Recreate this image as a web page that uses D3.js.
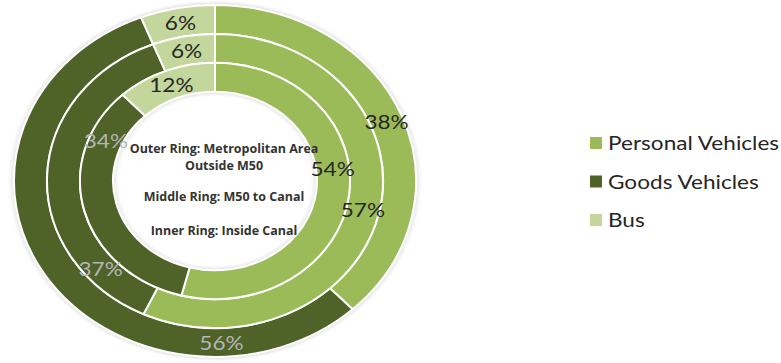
<!DOCTYPE html>
<html>
<head>
<meta charset="utf-8">
<script src="https://cdn.jsdelivr.net/npm/d3@7"></script>
<style>
  html, body { margin: 0; padding: 0; background: #ffffff; }
  svg { display: block; }
</style>
</head>
<body>
<svg id="chart" width="781" height="363"></svg>
<script>
// Vehicle type share by ring (outer → inner)
const categories = ["Personal Vehicles", "Goods Vehicles", "Bus"];
const rings = ["Outer Ring: Metropolitan Area Outside M50", "Middle Ring: M50 to Canal", "Inner Ring: Inside Canal"];
const outerValues = [38, 56, 6];
const middleValues = [57, 37, 6];
const innerValues = [54, 34, 12];
const ringValues = [outerValues, middleValues, innerValues];

// Where each percentage label sits (degrees clockwise from 12 o'clock); null = slice centre
const labelAngles = [
  [null, 178, null],
  [null, 229, null],
  [83, 293, null]
];

const colors = ["#9BBB59", "#4F6228", "#C3D69B"];
const labelColors = ["#262626", "#b5b5b5", "#262626"];

const svg = d3.select("#chart");
const cx = 215, cy = 181;
const rx = 201, ry = 176;          // doughnut is drawn slightly wider than tall
const sy = ry / rx;
const textStretch = 1.13;          // text shares the same horizontal widening
const ringWidth = 33;
const holeR = rx - ringWidth * 3;

const defs = svg.append("defs");
const blur = defs.append("filter").attr("id", "soft").attr("x", "-20%").attr("y", "-20%").attr("width", "140%").attr("height", "140%");
blur.append("feGaussianBlur").attr("stdDeviation", 2);

// helper: text widened horizontally around its anchor point
function wideText(parent, x, y, str, opts) {
  const t = parent.append("g")
    .attr("transform", `translate(${x},${y}) scale(${opts.stretch || textStretch},1)`)
    .append("text")
    .attr("x", 0).attr("y", 0)
    .attr("text-anchor", opts.anchor || "middle")
    .attr("dominant-baseline", "central")
    .attr("font-family", opts.family)
    .attr("font-size", opts.size)
    .attr("fill", opts.fill)
    .text(str);
  if (opts.weight) t.attr("font-weight", opts.weight);
  return t;
}

const pie = d3.pie().sort(null).value(d => d);

const g = svg.append("g").attr("transform", `translate(${cx},${cy}) scale(1,${sy})`);

// soft edge around the outside of the doughnut and inside the hole
g.append("circle").attr("r", rx + 1).attr("fill", "none")
  .attr("stroke", "#d4d4d4").attr("stroke-width", 2.5).attr("filter", "url(#soft)");
g.append("circle").attr("r", holeR - 1).attr("fill", "none")
  .attr("stroke", "#d8d8d8").attr("stroke-width", 2.5).attr("filter", "url(#soft)");

const labelLayer = svg.append("g");

ringValues.forEach((vals, i) => {
  const outerR = rx - i * ringWidth;
  const innerR = outerR - ringWidth;
  const arc = d3.arc().innerRadius(innerR).outerRadius(outerR);
  const arcs = pie(vals);

  g.append("g").selectAll("path")
    .data(arcs)
    .join("path")
    .attr("d", arc)
    .attr("fill", (d, j) => colors[j])
    .attr("stroke", "#ffffff")
    .attr("stroke-width", 2)
    .attr("vector-effect", "non-scaling-stroke");

  // percentage labels, positioned in screen space so text is not squashed
  const midR = (innerR + outerR) / 2;
  arcs.forEach((d, j) => {
    const deg = labelAngles[i][j];
    const a = deg === null ? (d.startAngle + d.endAngle) / 2 : deg * Math.PI / 180;
    const x = cx + midR * Math.sin(a);
    const y = cy - midR * Math.cos(a) * sy;
    wideText(labelLayer, x, y, d.data + "%", {
      family: "Lato, 'Open Sans', sans-serif", size: 20, fill: labelColors[j]
    });
  });
});

// ring descriptions in the hole
const centerLines = [
  { text: "Outer Ring: Metropolitan Area", y: 149 },
  { text: "Outside M50", y: 166 },
  { text: "Middle Ring: M50 to Canal", y: 197 },
  { text: "Inner Ring: Inside Canal", y: 231 }
];
const centerLayer = svg.append("g");
centerLines.forEach(d => {
  wideText(centerLayer, 224, d.y, d.text, {
    family: "'Open Sans', sans-serif", size: 12, weight: "bold", fill: "#333333", stretch: 1.04
  });
});

// legend
const legendY = d3.scalePoint().domain(categories).range([143, 220]);
const legend = svg.append("g").selectAll("g")
  .data(categories)
  .join("g")
  .attr("transform", d => `translate(590,${legendY(d)})`);
legend.append("rect")
  .attr("x", 0).attr("y", -6).attr("width", 12).attr("height", 12)
  .attr("fill", (d, i) => colors[i]);
legend.each(function (d) {
  wideText(d3.select(this), 18, 0, d, {
    family: "Lato, 'Open Sans', sans-serif", size: 20, fill: "#262626", anchor: "start"
  });
});
</script>
</body>
</html>
